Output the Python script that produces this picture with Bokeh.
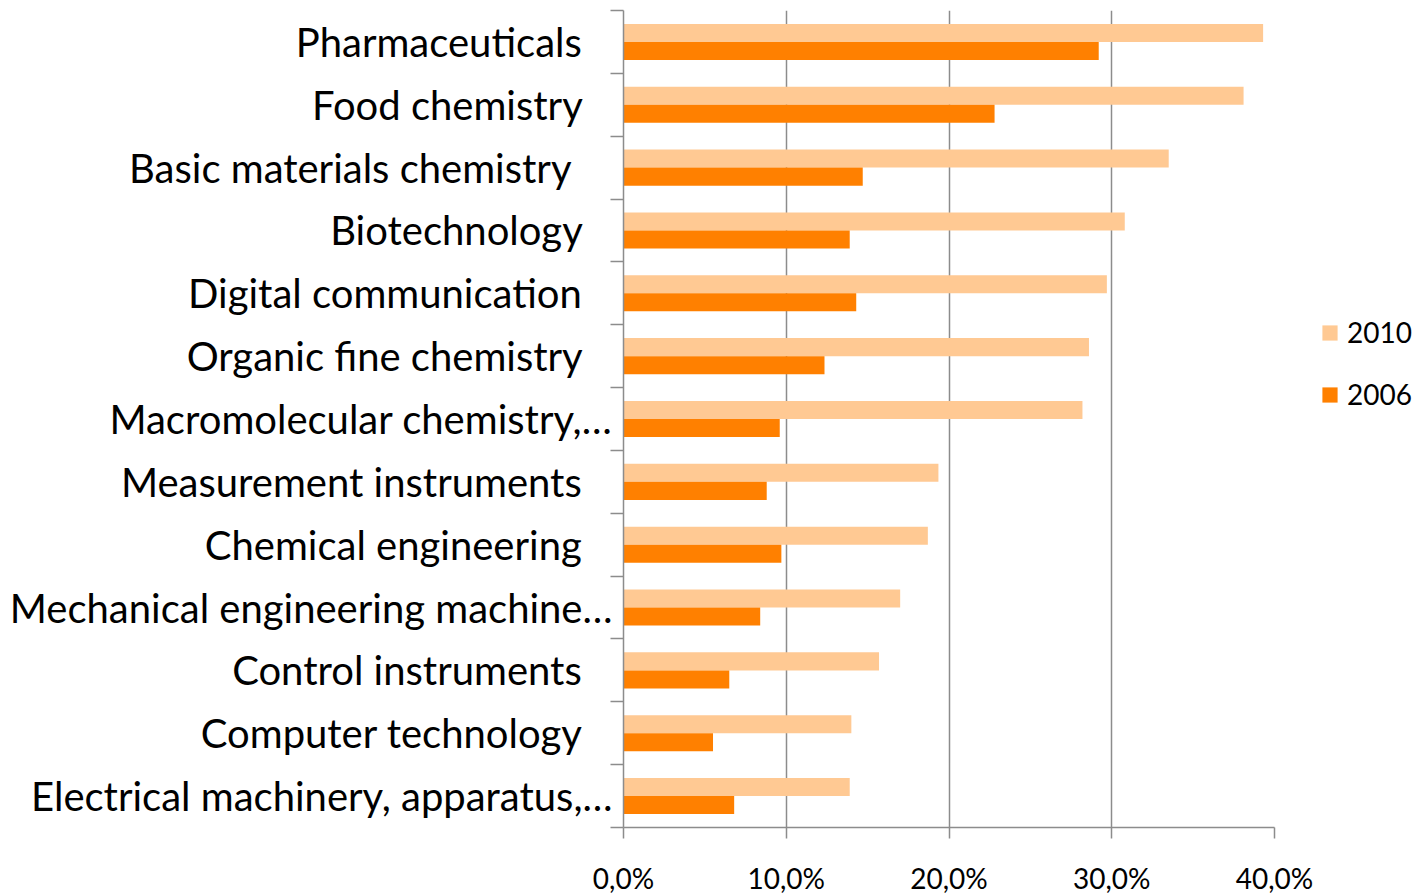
from bokeh.plotting import figure
from bokeh.models import Range1d, FixedTicker, Legend, LegendItem, ColumnDataSource
from bokeh.embed import file_html
from bokeh.resources import INLINE

categories = [
    "Pharmaceuticals",
    "Food chemistry",
    "Basic materials chemistry ",
    "Biotechnology",
    "Digital communication",
    "Organic fine chemistry",
    "Macromolecular chemistry,\u2026",
    "Measurement instruments",
    "Chemical engineering",
    "Mechanical engineering machine\u2026",
    "Control instruments",
    "Computer technology",
    "Electrical machinery, apparatus,\u2026",
]
values_2010 = [39.3, 38.1, 33.5, 30.8, 29.7, 28.6, 28.2, 19.35, 18.7, 17.0, 15.7, 14.0, 13.9]
values_2006 = [29.2, 22.8, 14.7, 13.9, 14.3, 12.35, 9.6, 8.8, 9.7, 8.4, 6.5, 5.5, 6.8]
x_ticks = [0, 10, 20, 30, 40]
x_tick_labels = ["0,0%", "10,0%", "20,0%", "30,0%", "40,0%"]
series_names = ["2010", "2006"]

FONT = "Lato"
GRAY = "#8c8c8c"
C2010 = "#FFC993"
C2006 = "#FF8000"
PAD = "\u00a0" * 3

n = len(categories)
idx = list(range(n))
bar_h = 0.287
src = ColumnDataSource(dict(
    y10=[i + 0.5 - bar_h / 2 for i in idx],
    y06=[i + 0.5 + bar_h / 2 for i in idx],
    v10=values_2010,
    v06=values_2006,
))

p = figure(frame_width=651, frame_height=817, output_backend="svg", toolbar_location=None,
           x_range=Range1d(0, 40), y_range=Range1d(n, 0),
           min_border_left=623, min_border_right=140, min_border_top=10, min_border_bottom=60)
p.outline_line_color = None
p.background_fill_color = "white"

r10 = p.hbar(y="y10", right="v10", left=0, height=bar_h, source=src,
             fill_color=C2010, line_color=None)
r06 = p.hbar(y="y06", right="v06", left=0, height=bar_h, source=src,
             fill_color=C2006, line_color=None)

# x axis
p.xaxis.ticker = FixedTicker(ticks=x_ticks, minor_ticks=[])
p.xaxis.major_label_overrides = {t: l for t, l in zip(x_ticks, x_tick_labels)}
p.xaxis.axis_line_color = GRAY
p.xaxis.axis_line_width = 1.5
p.xaxis.major_tick_line_color = GRAY
p.xaxis.major_tick_line_width = 1.5
p.xaxis.major_tick_out = 11
p.xaxis.major_tick_in = 0
p.xaxis.major_label_standoff = 22
p.xaxis.major_label_text_font = FONT
p.xaxis.major_label_text_font_size = "28px"
p.xaxis.major_label_text_color = "#000000"

# y axis
centers = [i + 0.5 for i in idx]
labels = [c if c.endswith("\u2026") else c + PAD for c in categories]
p.yaxis.ticker = FixedTicker(ticks=centers, minor_ticks=list(range(n + 1)))
p.yaxis.major_label_overrides = {c: l for c, l in zip(centers, labels)}
p.yaxis.axis_line_color = GRAY
p.yaxis.axis_line_width = 1.5
p.yaxis.major_tick_line_color = None
p.yaxis.major_tick_out = 0
p.yaxis.major_tick_in = 0
p.yaxis.minor_tick_line_color = GRAY
p.yaxis.minor_tick_line_width = 1.5
p.yaxis.minor_tick_out = 13
p.yaxis.minor_tick_in = 0
p.yaxis.major_label_standoff = -2
p.yaxis.major_label_text_font = FONT
p.yaxis.major_label_text_font_size = "40px"
p.yaxis.major_label_text_color = "#000000"

p.xgrid.ticker = FixedTicker(ticks=x_ticks[1:])
p.xgrid.grid_line_color = GRAY
p.xgrid.grid_line_width = 1.5
p.ygrid.grid_line_color = None

legend = Legend(items=[LegendItem(label=series_names[0], renderers=[r10]),
                       LegendItem(label=series_names[1], renderers=[r06])],
                location=(46, 416), orientation="vertical")
legend.margin = 0
legend.padding = 0
legend.spacing = 28
legend.glyph_width = 19
legend.glyph_height = 19
legend.label_height = 30
legend.label_standoff = 8
legend.label_text_font = FONT
legend.label_text_font_size = "28px"
legend.label_text_color = "#000000"
legend.border_line_color = None
legend.background_fill_alpha = 0
p.add_layout(legend, "right")

open("out.html", "w").write(file_html(p, INLINE))
